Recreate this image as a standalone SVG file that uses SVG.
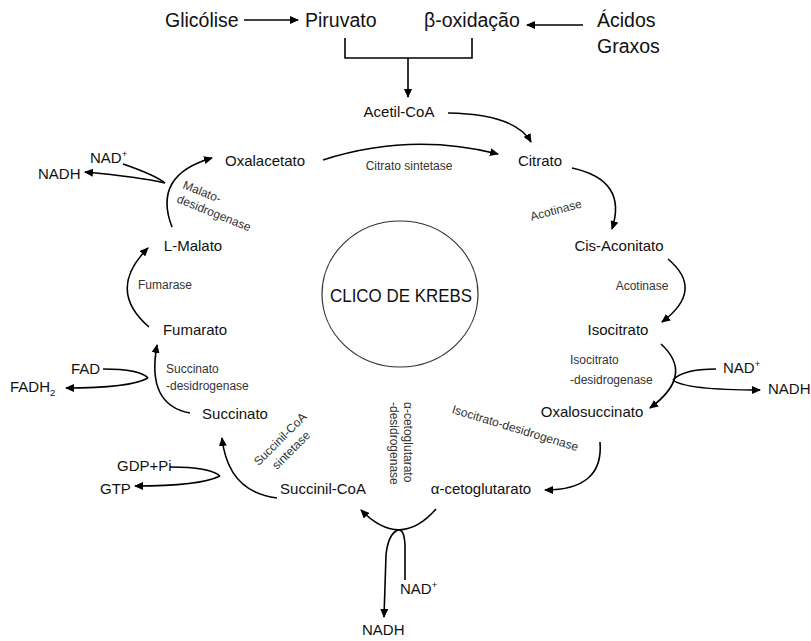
<svg xmlns="http://www.w3.org/2000/svg" width="811" height="641" viewBox="0 0 811 641">
<defs>
<marker id="ah" markerUnits="userSpaceOnUse" markerWidth="10" markerHeight="8" refX="8" refY="4" orient="auto">
<path d="M0,0 L9,4 L0,8 z" fill="#000"/>
</marker>
<style>
text{font-family:"Liberation Sans",Arial,sans-serif;fill:#111}
.top{font-size:19.5px}
.n{font-size:15px}
.e{font-size:12px;fill:#333}
.c{fill:none;stroke:#000;stroke-width:1.6}
.a{marker-end:url(#ah)}
.sup{font-size:9.5px}
</style>
</defs>
<rect width="811" height="641" fill="#fff"/>

<g id="glicolise"><text class="top" x="165" y="27">Glicólise</text></g>
<g id="piruvato"><text class="top" x="305" y="27">Piruvato</text></g>
<g id="beta-oxidacao"><text class="top" x="424" y="27">β-oxidação</text></g>
<g id="acidos-graxos"><text class="top" x="597" y="27">Ácidos</text><text class="top" x="597" y="53">Graxos</text></g>

<g id="krebs"><ellipse cx="400" cy="294" rx="78" ry="73" fill="none" stroke="#333" stroke-width="1.2"/><text x="401" y="302" font-size="19" text-anchor="middle" textLength="142" lengthAdjust="spacingAndGlyphs">CLICO DE KREBS</text></g>

<g id="acetil-coa"><text class="n" x="399" y="117" text-anchor="middle">Acetil-CoA</text></g>
<g id="oxalacetato"><text class="n" x="265" y="166" text-anchor="middle">Oxalacetato</text></g>
<g id="citrato"><text class="n" x="540" y="166" text-anchor="middle">Citrato</text></g>
<g id="cis-aconitato"><text class="n" x="619" y="251" text-anchor="middle">Cis-Aconitato</text></g>
<g id="l-malato"><text class="n" x="193" y="251" text-anchor="middle">L-Malato</text></g>
<g id="isocitrato"><text class="n" x="618" y="335" text-anchor="middle">Isocitrato</text></g>
<g id="fumarato"><text class="n" x="195" y="335" text-anchor="middle">Fumarato</text></g>
<g id="oxalosuccinato"><text class="n" x="592" y="417" text-anchor="middle">Oxalosuccinato</text></g>
<g id="succinato"><text class="n" x="235" y="419" text-anchor="middle">Succinato</text></g>
<g id="succinil-coa"><text class="n" x="323" y="494" text-anchor="middle">Succinil-CoA</text></g>
<g id="alfa-cetoglutarato"><text class="n" x="481" y="494" text-anchor="middle">α-cetoglutarato</text></g>

<g id="nad-1"><text class="n" x="90" y="163">NAD<tspan class="sup" dy="-6">+</tspan></text></g>
<g id="nadh-1"><text class="n" x="38" y="179">NADH</text></g>
<g id="fad"><text class="n" x="71" y="374">FAD</text></g>
<g id="fadh2"><text class="n" x="10" y="392">FADH<tspan class="sup" dy="4">2</tspan></text></g>
<g id="gdp-pi"><text class="n" x="117" y="471">GDP+Pi</text></g>
<g id="gtp"><text class="n" x="100" y="494">GTP</text></g>
<g id="nad-2"><text class="n" x="723" y="373">NAD<tspan class="sup" dy="-6">+</tspan></text></g>
<g id="nadh-2"><text class="n" x="768" y="394">NADH</text></g>
<g id="nad-3"><text class="n" x="400" y="594">NAD<tspan class="sup" dy="-6">+</tspan></text></g>
<g id="nadh-3"><text class="n" x="362" y="635">NADH</text></g>

<g id="enzymes">
<text class="e" x="409" y="170" text-anchor="middle">Citrato sintetase</text>
<text class="e" transform="translate(557,214) rotate(-15)" text-anchor="middle">Acotinase</text>
<text class="e" x="642" y="290" text-anchor="middle">Acotinase</text>
<text class="e" x="570" y="364">Isocitrato</text>
<text class="e" x="570" y="384">-desidrogenase</text>
<text class="e" transform="translate(514,432) rotate(17)" text-anchor="middle">Isocitrato-desidrogenase</text>
<text class="e" transform="translate(404,402) rotate(90)">α-cetoglutarato</text>
<text class="e" transform="translate(390,402) rotate(90)">-desidrogenase</text>
<text class="e" transform="translate(283,442) rotate(-45)" text-anchor="middle">Succinil-CoA</text>
<text class="e" transform="translate(294,453) rotate(-45)" text-anchor="middle">sintetase</text>
<text class="e" x="166" y="373">Succinato</text>
<text class="e" x="166" y="390">-desidrogenase</text>
<text class="e" x="138" y="289">Fumarase</text>
<text class="e" transform="translate(182,188) rotate(22)">Malato-</text>
<text class="e" transform="translate(176,202) rotate(22)">desidrogenase</text>
</g>

<g id="connectors">
<path class="c a" d="M244,20 L298,20"/>
<path class="c a" d="M583,25 L527,25"/>
<path class="c" d="M345,38 V58 H472 V38"/>
<path class="c a" d="M408,58 V97"/>
<path class="c a" d="M448,113 Q515,114 531,142"/>
<path class="c a" d="M323,160 Q410,132 498,154"/>
<path class="c a" d="M572,168 Q628,180 612,229"/>
<path class="c a" d="M668,259 Q705,290 662,322"/>
<path class="c a" d="M661,344 Q695,375 650,408"/>
<path class="c" d="M716,369 Q683,369 673,380"/>
<path class="c a" d="M673,380 Q685,390 760,390"/>
<path class="c a" d="M600,442 Q604,490 545,490"/>
<path class="c a" d="M436,509 Q400,550 361,510"/>
<path class="c a" d="M405,580 L405,545 Q404,526 396,531 Q388,536 386,555 L384,617"/>
<path class="c a" d="M277,498 Q228,492 222,438"/>
<path class="c" d="M170,467 Q210,467 220,476"/>
<path class="c a" d="M220,476 Q200,486 135,486"/>
<path class="c a" d="M190,413 Q146,405 157,345"/>
<path class="c" d="M103,369 Q140,369 148,378"/>
<path class="c a" d="M148,378 Q130,388 66,388"/>
<path class="c a" d="M149,327 Q106,290 148,248"/>
<path class="c a" d="M172,227 Q152,175 212,158"/>
<path class="c" d="M123,164 Q155,175 165,183"/>
<path class="c a" d="M165,183 Q140,177 85,172"/>
</g>
</svg>
